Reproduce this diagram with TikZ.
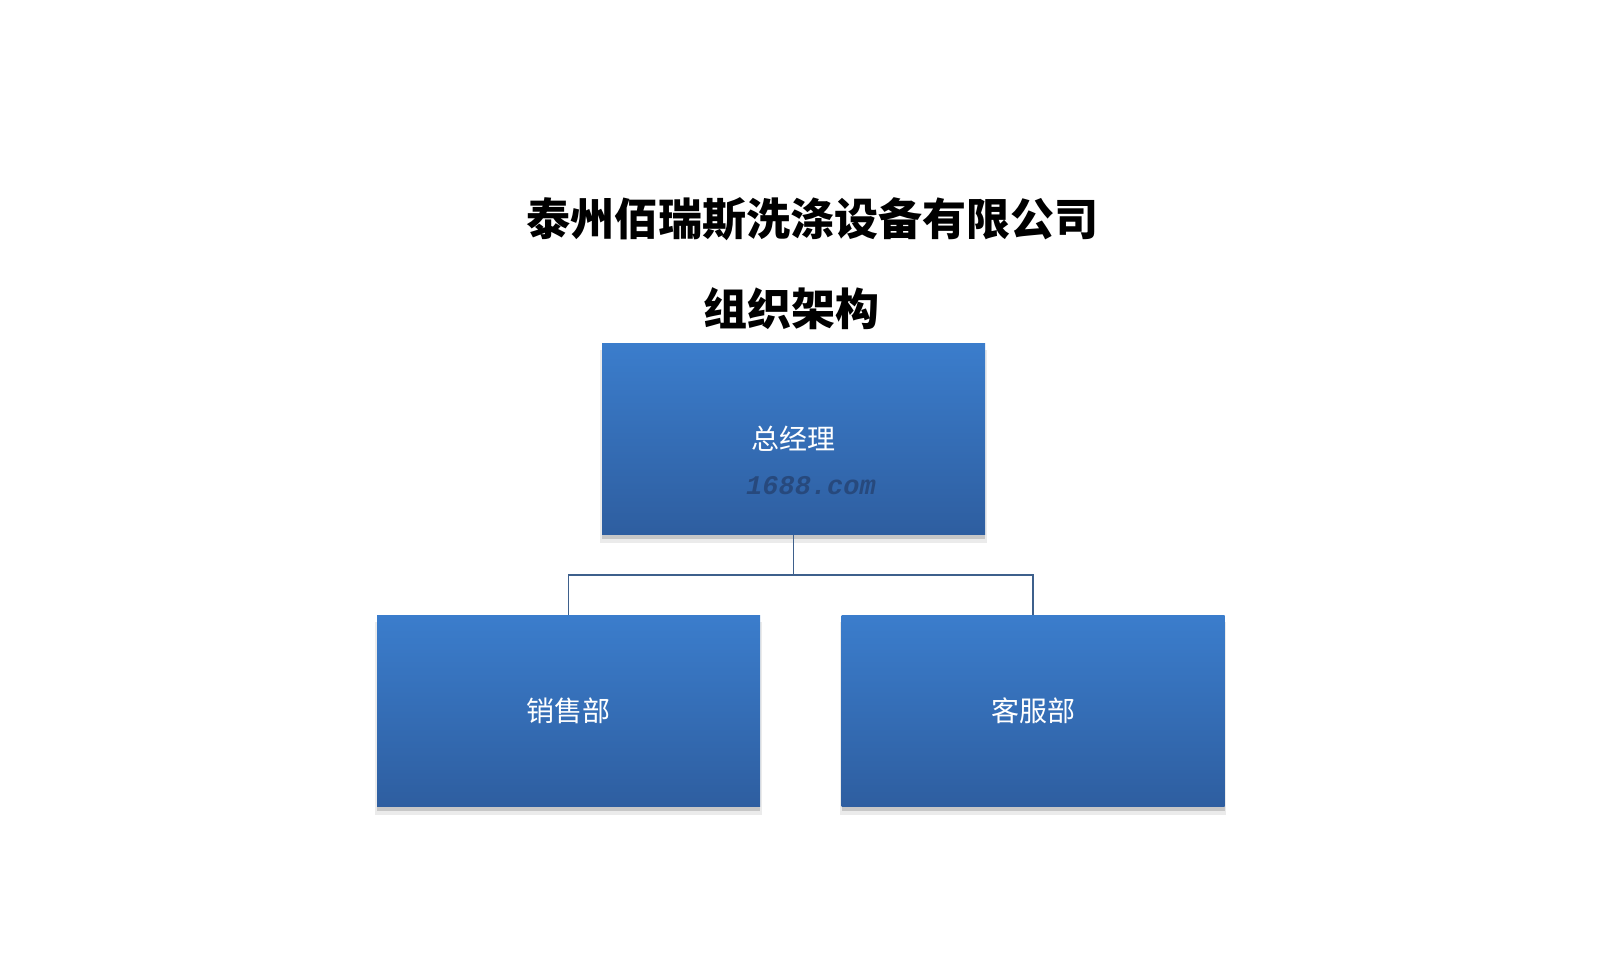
\documentclass[tikz,border=0pt]{standalone}
\usepackage{fontspec}
\newfontfamily\cjk{Noto Sans CJK SC}
\newfontfamily\monof{Liberation Mono}
\usetikzlibrary{shadows}
\definecolor{boxtop}{RGB}{59,125,204}
\definecolor{boxbot}{RGB}{46,94,160}
\definecolor{linec}{RGB}{62,96,140}
\definecolor{wmark}{RGB}{36,64,110}
\tikzset{
  orgbox/.style={rectangle, minimum width=383pt, minimum height=191pt, inner sep=0pt,
    top color=boxtop, bottom color=boxbot, draw=none,
    drop shadow={shadow xshift=0pt, shadow yshift=-7pt, shadow scale=1.01, opacity=0.08, fill=black},
    drop shadow={shadow xshift=0pt, shadow yshift=-4pt, opacity=0.15, fill=black},
    text=white, font=\cjk\fontsize{28}{30}\selectfont},
  titletext/.style={font=\cjk\bfseries\fontsize{44}{48}\selectfont, text=black, inner sep=0pt},
  conn/.style={draw=linec, line width=1.8pt},
  wm/.style={font=\monof\itshape\fontsize{27}{30}\selectfont, text=wmark, opacity=0.75, inner sep=0pt}
}
\begin{document}
\begin{tikzpicture}[x=1pt,y=-1pt]
\useasboundingbox[fill=white] (0,0) rectangle (1623,969);
\node[titletext] (title1) at (812,219) {泰州佰瑞斯洗涤设备有限公司};
\node[titletext] (title2) at (791,309) {组织架构};
\node[orgbox] (gm) at (793.5,439) {总经理};
\node[wm] (wmk) at (811,486) {\bfseries 1688.com};
\node[orgbox] (sales) at (568.5,711) {销售部};
\node[orgbox] (service) at (1033,711) {客服部};
\coordinate (junc) at ([yshift=-40pt]gm.south);
\draw[conn] (gm.south) -- (junc);
\draw[conn] (junc) -| (sales.north);
\draw[conn] (junc) -| (service.north);
\end{tikzpicture}
\end{document}
